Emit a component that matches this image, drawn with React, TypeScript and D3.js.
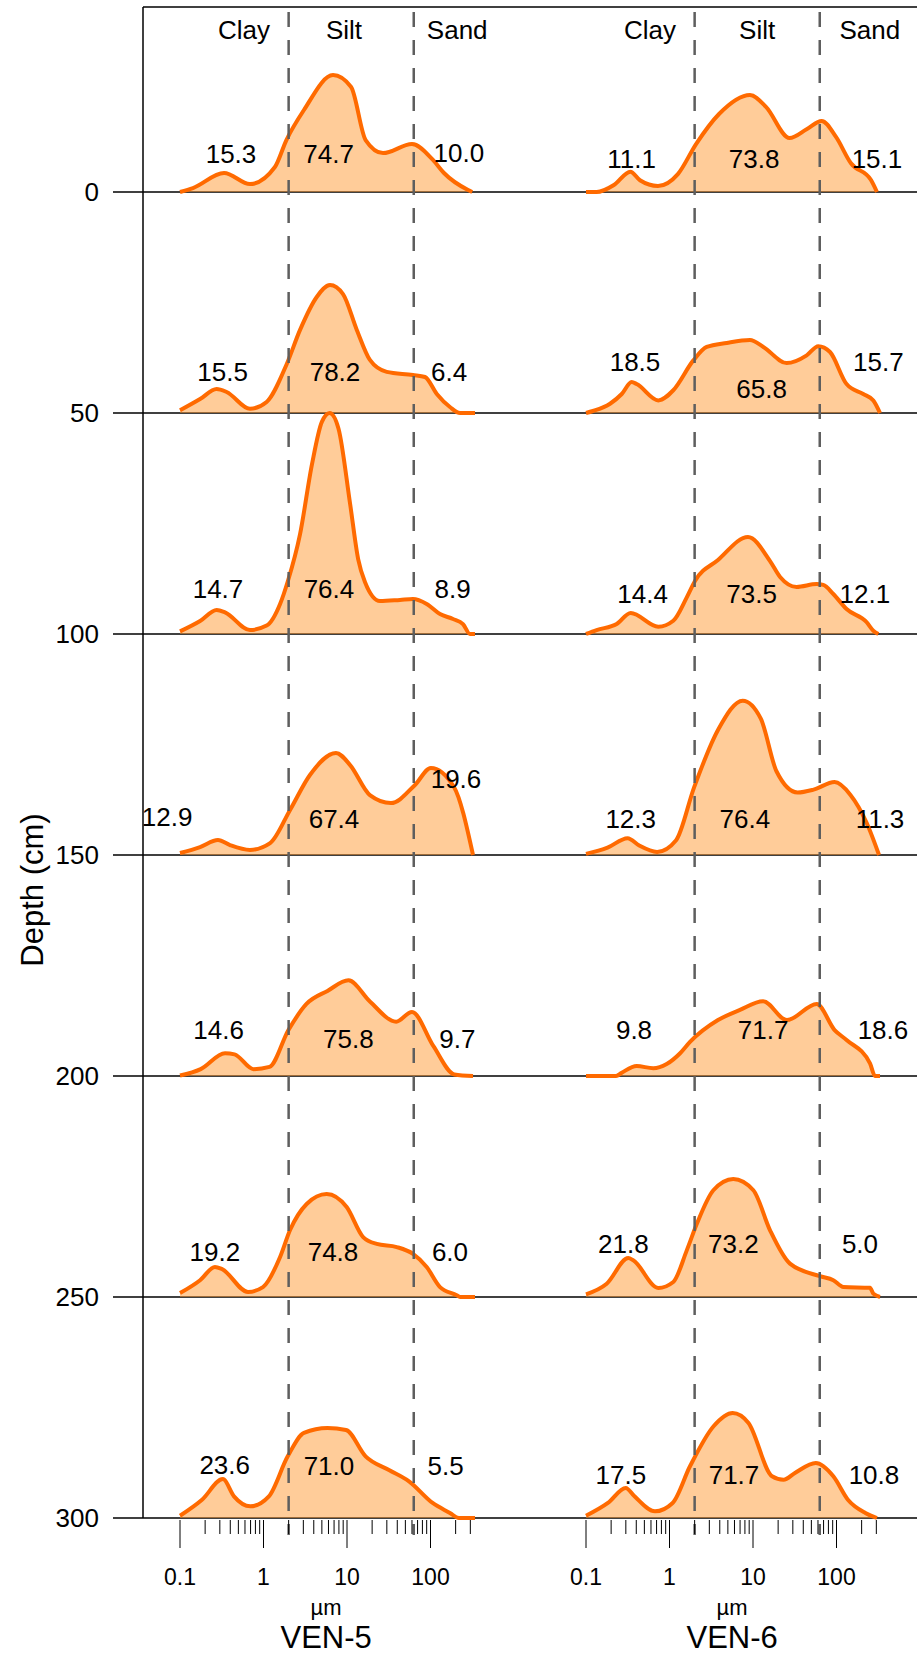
import React from "react";
import * as d3 from "d3";

// ---------- data ----------
const depths = [0, 50, 100, 150, 200, 250, 300];
const cores = ["VEN-5", "VEN-6"];
const fractions = ["Clay", "Silt", "Sand"];
const classLimits = [2, 63]; // µm
const majorTicks = [0.1, 1, 10, 100];
const majorTickLabels = ["0.1", "1", "10", "100"];
const minorTicks = [0.2, 0.3, 0.4, 0.5, 0.6, 0.7, 0.8, 0.9, 2, 3, 4, 5, 6, 7, 8, 9, 20, 30, 40, 50, 60, 70, 80, 90, 200, 300];

const ven5Clay = [15.3, 15.5, 14.7, 12.9, 14.6, 19.2, 23.6];
const ven5Silt = [74.7, 78.2, 76.4, 67.4, 75.8, 74.8, 71.0];
const ven5Sand = [10.0, 6.4, 8.9, 19.6, 9.7, 6.0, 5.5];
const ven6Clay = [11.1, 18.5, 14.4, 12.3, 9.8, 21.8, 17.5];
const ven6Silt = [73.8, 65.8, 73.5, 76.4, 71.7, 73.2, 71.7];
const ven6Sand = [15.1, 15.7, 12.1, 11.3, 18.6, 5.0, 10.8];

// grain-size distribution curves: [size µm, volume %]
const ven5Curves: [number, number][][] = [
  [[0.1,0],[0.143,0.18],[0.337,0.86],[0.689,0.36],[1.37,1.13],[1.88,2.35],[3.05,3.71],[6.8,5.29],[11.2,4.75],[16.7,2.35],[27,1.76],[60,2.17],[107,1.45],[145,0.86],[282,0.09],[316,0]],
  [[0.1,0.12],[0.174,0.63],[0.275,1.09],[0.362,0.95],[0.689,0.19],[1.09,0.5],[1.9,2.22],[2.74,3.76],[4.34,5.25],[6.26,5.79],[8.96,5.38],[13.1,3.76],[18.8,2.4],[29.9,1.86],[61.7,1.72],[85.9,1.63],[119,0.86],[171,0.27],[226,0],[341,0]],
  [[0.1,0.12],[0.174,0.59],[0.275,1.09],[0.346,0.98],[0.689,0.18],[1.09,0.38],[1.58,1.36],[1.96,2.4],[2.74,4.52],[3.81,7.69],[5.0,9.6],[6.2,10.0],[7.9,9.3],[10.9,5.88],[13.6,3.39],[16.4,2.35],[24.8,1.49],[43.1,1.54],[61.7,1.58],[90,1.36],[130,0.9],[186,0.68],[245,0.45],[297,0],[341,0]],
  [[0.1,0.09],[0.174,0.36],[0.285,0.68],[0.397,0.45],[0.689,0.23],[1.2,0.54],[2.08,2.04],[3.6,3.62],[7.38,4.62],[10.9,4.07],[18.8,2.71],[33.6,2.35],[65.2,3.17],[101,3.94],[191,3.08],[323,0]],
  [[0.1,0.02],[0.177,0.31],[0.346,1.03],[0.45,0.98],[0.761,0.31],[1.18,0.41],[1.99,2.08],[3.27,3.26],[5.84,3.85],[10.4,4.33],[18.8,3.37],[38.8,2.46],[60,2.9],[108,1.36],[193,0.07],[323,0]],
  [[0.1,0.18],[0.174,0.76],[0.262,1.36],[0.316,1.27],[0.652,0.23],[0.986,0.45],[1.58,1.81],[2.08,3.03],[3.29,4.21],[5.71,4.66],[9.91,4.07],[15.6,2.71],[22.7,2.4],[39.4,2.26],[61.7,1.95],[90,1.36],[130,0.45],[206,0.08],[226,0],[341,0]],
  [[0.1,0.1],[0.182,0.81],[0.326,1.76],[0.443,0.98],[0.695,0.53],[1.16,0.98],[1.95,2.79],[3.05,3.85],[5.84,4.07],[9.73,3.98],[16.7,2.79],[31.8,2.17],[55.3,1.66],[106,0.68],[171,0.23],[219,0],[341,0]],
];

const ven6Curves: [number, number][][] = [
  [[0.1,0],[0.134,0],[0.216,0.32],[0.34,0.92],[0.443,0.53],[0.728,0.27],[1.26,0.81],[2.08,2.17],[3.92,3.53],[9.2,4.39],[14.3,3.85],[27.4,2.44],[44.4,2.85],[66.4,3.21],[98.6,2.49],[149,1.3],[259,0.54],[305,0]],
  [[0.1,0],[0.121,0.09],[0.194,0.42],[0.268,0.86],[0.352,1.4],[0.405,1.31],[0.734,0.57],[1.11,1.03],[1.93,2.38],[2.79,2.99],[4.84,3.17],[9.2,3.3],[13.3,2.99],[25.3,2.26],[44,2.61],[60.5,3.02],[83.6,2.76],[132,1.31],[209,0.86],[276,0.57],[332,0]],
  [[0.1,0],[0.134,0.18],[0.233,0.45],[0.343,0.95],[0.734,0.33],[1.11,0.6],[1.61,1.66],[2.02,2.4],[3.81,3.35],[8.71,4.39],[16,3.3],[21.1,2.58],[33.3,2.13],[57.9,2.26],[69.5,2.22],[91.6,1.81],[132,1.13],[230,0.53],[276,0.15],[317,0]],
  [[0.1,0.05],[0.181,0.33],[0.315,0.76],[0.434,0.43],[0.71,0.14],[1.2,0.67],[1.97,3.06],[3.85,5.69],[7.53,6.98],[12.4,6.17],[19.1,3.79],[34.2,2.83],[53.1,2.96],[94.9,3.3],[147,2.72],[228,1.48],[323,0]],
  [[0.1,0],[0.229,0],[0.268,0.15],[0.405,0.45],[0.64,0.35],[0.925,0.54],[1.34,1.03],[1.76,1.54],[3.81,2.53],[6.98,2.99],[13.2,3.38],[25.5,2.53],[57.9,3.26],[94.9,2.08],[132,1.63],[252,0.57],[289,0],[332,0]],
  [[0.1,0.12],[0.177,0.6],[0.321,1.76],[0.368,1.66],[0.734,0.41],[1.11,0.68],[1.61,2.11],[2.12,3.3],[3.35,4.83],[5.81,5.34],[10.1,4.83],[16,3.02],[27.7,1.51],[63.4,0.94],[91.6,0.76],[121,0.45],[252,0.42],[276,0.15],[332,0]],
  [[0.1,0.1],[0.183,0.68],[0.299,1.36],[0.381,0.98],[0.67,0.3],[1.09,0.68],[1.76,2.34],[3.37,4.15],[5.71,4.75],[8.83,4.3],[16.9,1.89],[23.2,1.73],[31.8,2.04],[56.5,2.49],[91.6,1.89],[137,0.83],[222,0.23],[305,0]],
];

// label anchors (size µm for clay/silt/sand label, height in volume %)
const ven5LabelSize = [[0.408,6.02,219],[0.324,7.18,167],[0.285,6.08,184],[0.07,6.99,202],[0.29,10.4,210],[0.262,6.8,171],[0.343,6.08,152]];
const ven5LabelHeight = [[1.74,1.72,1.76],[1.86,1.86,1.86],[2.05,2.05,2.05],[1.72,1.63,3.46],[2.08,1.69,1.69],[2.04,2.04,2.04],[2.4,2.37,2.37]];
const ven6LabelSize = [[0.352,10.3,305],[0.386,12.7,317],[0.477,9.64,219],[0.343,7.98,332],[0.376,13.2,360],[0.28,5.81,191],[0.262,5.92,281]];
const ven6LabelHeight = [[1.49,1.49,1.49],[2.31,1.1,2.31],[1.81,1.81,1.81],[1.63,1.63,1.63],[2.08,2.08,2.08],[2.42,2.42,2.42],[1.95,1.95,1.95]];
const headerSizes = [[0.585, 9.2, 209], [0.583, 11.2, 251]];

// ---------- layout ----------
const W = 917;
const H = 1656;
const FONT = "'Liberation Sans', Arial, Helvetica, sans-serif";
const ORANGE = "#FF6A00";
const FILL = "#FF9933";

export default function App() {
  const depthY = d3.scaleLinear().domain([0, 300]).range([192, 1518]);
  const freqH = d3.scaleLinear().domain([0, 10]).range([0, 221]);
  const panelLeft = [180, 586];
  const decade = 83.5;
  const axisX = 143;
  const topY = 7;
  const tickStartX = 113;
  const sizeScales = panelLeft.map((x0) =>
    d3.scaleLog().domain([0.1, Math.pow(10, 2.5)]).range([x0, x0 + 3.5 * decade])
  );

  const curvesByCore = [ven5Curves, ven6Curves];
  const valuesByCore = [
    [ven5Clay, ven5Silt, ven5Sand],
    [ven6Clay, ven6Silt, ven6Sand],
  ];
  const labelSizeByCore = [ven5LabelSize, ven6LabelSize];
  const labelHeightByCore = [ven5LabelHeight, ven6LabelHeight];

  const bottom = depthY(300);

  return (
    <svg
      width={W}
      height={H}
      viewBox={`0 0 ${W} ${H}`}
      style={{ position: "absolute", left: 0, top: 0, background: "#fff" }}
      fontFamily={FONT}
    >
      <rect x={0} y={0} width={W} height={H} fill="#fff" />
      {/* depth lines */}
      {depths.map((d) => (
        <line key={"dl" + d} x1={tickStartX} x2={W} y1={depthY(d)} y2={depthY(d)} stroke="#000" strokeWidth={1.3} />
      ))}
      {/* curves */}
      {cores.map((core, ci) => {
        const sx = sizeScales[ci];
        return depths.map((dep, di) => {
          const base = depthY(dep);
          const pts = curvesByCore[ci][di];
          const area = d3
            .area<[number, number]>()
            .x((p) => sx(p[0]))
            .y0(base)
            .y1((p) => base - freqH(p[1]))
            .curve(d3.curveMonotoneX);
          const line = d3
            .line<[number, number]>()
            .x((p) => sx(p[0]))
            .y((p) => base - freqH(p[1]))
            .curve(d3.curveMonotoneX);
          return (
            <g key={core + dep}>
              <path d={area(pts) || ""} fill={FILL} fillOpacity={0.5} stroke="none" />
              <path d={line(pts) || ""} fill="none" stroke={ORANGE} strokeWidth={4} strokeLinejoin="round" />
            </g>
          );
        });
      })}
      {/* class boundary dashed lines */}
      {cores.map((core, ci) =>
        classLimits.map((lim) => (
          <line
            key={core + "lim" + lim}
            x1={sizeScales[ci](lim)}
            x2={sizeScales[ci](lim)}
            y1={topY + 5}
            y2={bottom + 17}
            stroke="#5e5e5e"
            strokeWidth={2.5}
            strokeDasharray="15 13"
          />
        ))
      )}
      {/* frame */}
      <line x1={axisX} x2={axisX} y1={topY} y2={bottom} stroke="#000" strokeWidth={1.5} />
      <line x1={axisX} x2={W} y1={topY} y2={topY} stroke="#000" strokeWidth={1.5} />
      {/* depth labels */}
      {depths.map((d) => (
        <text key={"dt" + d} x={99} y={depthY(d)} textAnchor="end" dominantBaseline="central" fontSize={26} fill="#000">
          {d}
        </text>
      ))}
      <text
        transform={`translate(32, ${890}) rotate(-90)`}
        textAnchor="middle"
        dominantBaseline="central"
        fontSize={31}
        fill="#000"
      >
        Depth (cm)
      </text>
      {/* headers */}
      {cores.map((core, ci) =>
        fractions.map((f, fi) => (
          <text
            key={core + f}
            x={sizeScales[ci](headerSizes[ci][fi])}
            y={30}
            textAnchor="middle"
            dominantBaseline="central"
            fontSize={26}
            fill="#000"
          >
            {f}
          </text>
        ))
      )}
      {/* value labels */}
      {cores.map((core, ci) =>
        depths.map((dep, di) =>
          fractions.map((f, fi) => (
            <text
              key={core + dep + f}
              x={sizeScales[ci](labelSizeByCore[ci][di][fi])}
              y={depthY(dep) - freqH(labelHeightByCore[ci][di][fi])}
              textAnchor="middle"
              dominantBaseline="central"
              fontSize={26}
              fill="#000"
            >
              {valuesByCore[ci][fi][di].toFixed(1)}
            </text>
          ))
        )
      )}
      {/* x axes */}
      {cores.map((core, ci) => {
        const sx = sizeScales[ci];
        return (
          <g key={core + "ax"}>
            {minorTicks.map((t) => (
              <line key={"mn" + t} x1={sx(t)} x2={sx(t)} y1={bottom + 2} y2={bottom + 16} stroke="#000" strokeWidth={1} />
            ))}
            {majorTicks.map((t) => (
              <line key={"mj" + t} x1={sx(t)} x2={sx(t)} y1={bottom + 2} y2={bottom + 30} stroke="#000" strokeWidth={1} />
            ))}
            {majorTicks.map((t, i) => (
              <text key={"ml" + t} x={sx(t)} y={bottom + 59} textAnchor="middle" dominantBaseline="central" fontSize={23} fill="#000">
                {majorTickLabels[i]}
              </text>
            ))}
            <text x={(sx(0.1) + sx(Math.pow(10, 2.5))) / 2} y={bottom + 89} textAnchor="middle" dominantBaseline="central" fontSize={22} fill="#000">
              µm
            </text>
            <text x={(sx(0.1) + sx(Math.pow(10, 2.5))) / 2} y={H - 8} textAnchor="middle" fontSize={31} fill="#000">
              {core}
            </text>
          </g>
        );
      })}
    </svg>
  );
}
